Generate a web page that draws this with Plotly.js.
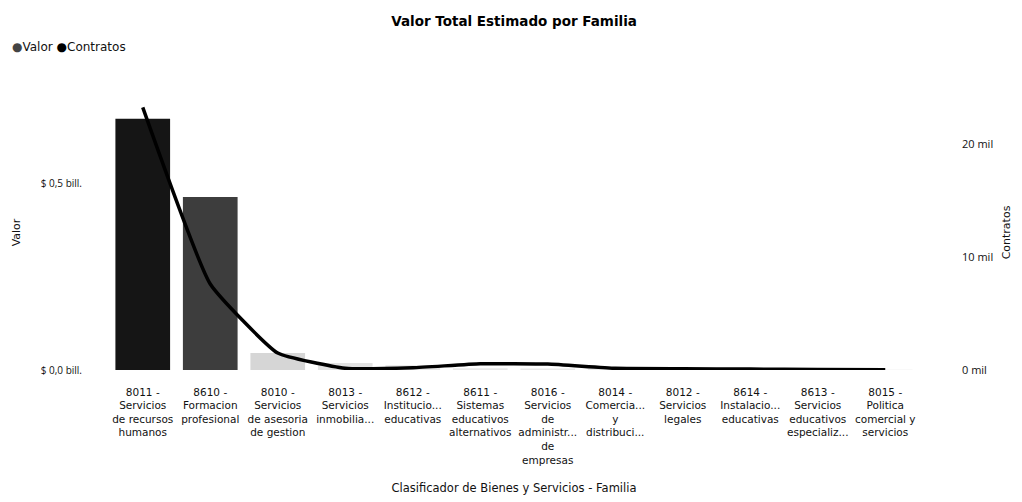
<!DOCTYPE html>
<html><head><meta charset="utf-8">
<script src="https://cdn.plot.ly/plotly-3.0.1.min.js"></script>
<style>html,body{margin:0;padding:0;background:#fff}#chart{width:1022px;height:502px}</style>
</head><body><div id="chart"></div>
<script>
const categories = [
  "8011 -<br>Servicios<br>de recursos<br>humanos",
  "8610 -<br>Formacion<br>profesional",
  "8010 -<br>Servicios<br>de asesoria<br>de gestion",
  "8013 -<br>Servicios<br>inmobilia...",
  "8612 -<br>Institucio...<br>educativas",
  "8611 -<br>Sistemas<br>educativos<br>alternativos",
  "8016 -<br>Servicios<br>de<br>administr...<br>de<br>empresas",
  "8014 -<br>Comercia...<br>y<br>distribuci...",
  "8012 -<br>Servicios<br>legales",
  "8614 -<br>Instalacio...<br>educativas",
  "8613 -<br>Servicios<br>educativos<br>especializ...",
  "8015 -<br>Politica<br>comercial y<br>servicios"
];
// Valor in billones (10^12)
const valor = [0.675, 0.465, 0.046, 0.019, 0.013, 0.005, 0.004, 0.003, 0.002, 0.002, 0.001, 0.001];
// Contratos (count)
const contratos = [23200, 7600, 1500, 150, 200, 550, 520, 150, 110, 80, 50, 30];
const valorTickVals = [0, 0.5];
const valorTickText = ["$ 0,0 bill.", "$ 0,5 bill."];
const contratosTickVals = [0, 10000, 20000];
const contratosTickText = ["0 mil", "10 mil", "20 mil"];
const barColors = ["#151515", "#3d3d3d", "#d6d6d6", "#e2e2e2", "#e6e6e6", "#e8e8e8", "#e8e8e8", "#e8e8e8", "#e8e8e8", "#e8e8e8", "#e8e8e8", "#e8e8e8"];

const font = "Open Sans, DejaVu Sans, sans-serif";
const wide = "DejaVu Sans, sans-serif";
const data = [
  {type: "bar", x: categories, y: valor, name: "Valor", marker: {color: barColors}, yaxis: "y", showlegend: false, hoverinfo: "skip"},
  {type: "scatter", mode: "lines", x: categories, y: contratos, name: "Contratos", yaxis: "y2",
   line: {color: "#000", width: 3.5, shape: "spline", smoothing: 0.4}, showlegend: false, hoverinfo: "skip"}
];
const layout = {
  width: 1022, height: 502,
  margin: {l: 109, r: 103, t: 95, b: 132},
  paper_bgcolor: "#fff", plot_bgcolor: "#fff",
  font: {family: font, size: 10, color: "#111"},
  title: {text: "<b>Valor Total Estimado por Familia</b>", font: {family: wide, size: 13.5, color: "#000"}, x: 0.503, xanchor: "center", y: 0.958, yanchor: "middle"},
  bargap: 0.19,
  xaxis: {
    tickfont: {family: wide, size: 10.5, color: "#111"}, showgrid: false, zeroline: false, showline: false, ticks: "",
    tickangle: 0, automargin: false, ticklabelstandoff: 14,
    title: {text: "Clasificador de Bienes y Servicios - Familia", font: {family: wide, size: 11.5, color: "#111"}, standoff: 19}
  },
  yaxis: {
    range: [0, 0.739], tickvals: valorTickVals, ticktext: valorTickText, showgrid: false, zeroline: false, showline: false,
    ticks: "", ticklabelstandoff: 26, automargin: false, tickfont: {family: font, size: 10, color: "#111"},
    title: {text: "Valor", font: {family: wide, size: 11, color: "#111"}, standoff: 17}
  },
  yaxis2: {
    range: [0, 24300], overlaying: "y", side: "right", tickvals: contratosTickVals, ticktext: contratosTickText,
    showgrid: false, zeroline: false, showline: false, ticks: "", ticklabelstandoff: 42, automargin: false,
    tickfont: {family: font, size: 11, color: "#111"},
    title: {text: "Contratos", font: {family: wide, size: 11, color: "#111"}, standoff: 10}
  },
  annotations: [
    {xref: "paper", yref: "paper", x: -0.122, y: 1.1745, xanchor: "left", yanchor: "middle", showarrow: false,
     text: "<span style='color:#444'>●</span>Valor <span style='color:#000'>●</span>Contratos", font: {family: wide, size: 12, color: "#111"}}
  ]
};
Plotly.newPlot("chart", data, layout, {staticPlot: true});
</script></body></html>
